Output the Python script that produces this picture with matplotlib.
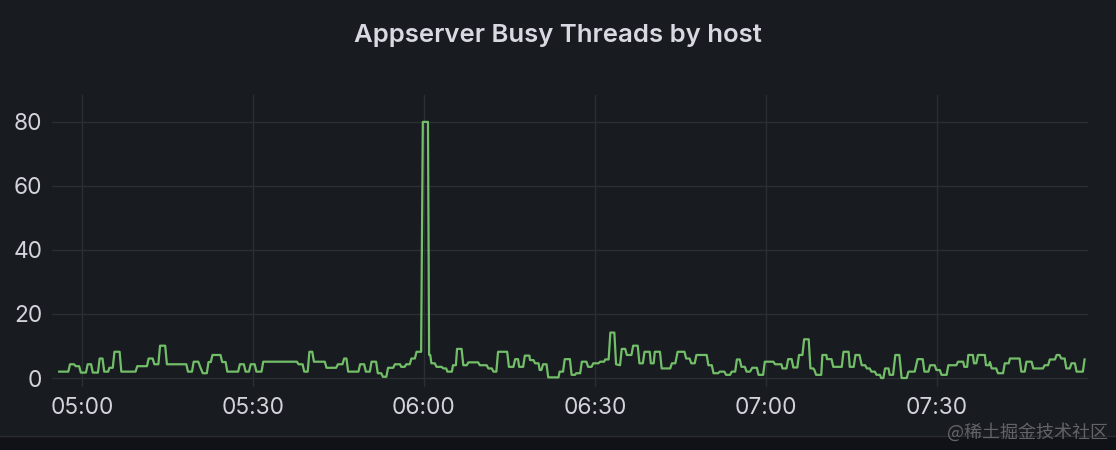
import matplotlib
matplotlib.use("Agg")
import matplotlib.pyplot as plt
from matplotlib.lines import Line2D
from matplotlib.patches import Rectangle

# minutes after 04:56 and busy thread counts (breakpoints)
minutes = [
    0.0, 1.6, 1.9, 2.6, 2.9, 3.5, 3.8, 4.7, 5.0, 5.6, 5.9, 6.8, 7.1, 7.6, 7.9, 8.6,
    8.8, 9.4, 9.7, 10.6, 10.9, 13.4, 13.7, 15.4, 15.7, 16.4, 16.7, 17.4, 17.7, 18.6,
    18.9, 22.3, 22.6, 23.3, 23.6, 24.4, 24.8, 25.2, 25.9, 26.2, 26.6, 26.9, 28.3, 28.6,
    29.2, 29.5, 31.4, 31.7, 32.4, 32.7, 33.3, 33.6, 34.3, 34.6, 35.5, 35.8, 41.7, 42.0,
    42.7, 43.0, 43.6, 43.9, 44.4, 44.7, 46.6, 46.9, 48.6, 48.9, 49.7, 50.0, 50.4, 50.7,
    52.5, 52.8, 53.5, 53.8, 54.5, 54.8, 55.6, 55.9, 56.5, 56.8, 57.4, 57.7, 58.6, 58.9,
    59.8, 60.0, 60.6, 60.9, 61.5, 61.8, 62.4, 62.7, 63.5, 63.8, 64.7, 64.9, 65.1, 65.3,
    65.9, 66.2, 67.1, 67.4, 67.9, 68.1, 68.9, 69.1, 69.6, 69.8, 70.6, 70.9, 71.5, 71.8,
    73.5, 73.8, 75.0, 75.3, 75.9, 76.2, 76.7, 77.0, 78.6, 78.9, 79.7, 80.0, 80.5, 80.7,
    81.4, 81.7, 82.5, 82.6, 83.2, 83.5, 84.1, 84.3, 84.6, 84.9, 85.5, 85.8, 87.6, 87.8,
    88.4, 88.7, 89.6, 89.9, 90.5, 90.7, 91.4, 91.7, 92.5, 92.8, 93.4, 93.7, 94.6, 94.9,
    95.6, 95.8, 96.4, 96.7, 97.4, 97.7, 98.4, 98.7, 99.3, 99.6, 100.4, 100.7, 101.5, 101.8,
    102.4, 102.7, 103.6, 103.8, 104.3, 104.5, 105.4, 105.7, 107.2, 107.5, 108.1, 108.5,
    109.7, 110.0, 110.6, 110.9, 111.5, 111.8, 113.6, 113.9, 114.5, 114.8, 115.6, 115.9,
    116.7, 117.0, 117.7, 118.0, 118.6, 118.9, 119.4, 119.7, 120.3, 120.6, 121.2, 121.6,
    122.4, 122.7, 123.5, 123.8, 125.3, 125.6, 126.7, 126.9, 127.6, 127.9, 128.5, 128.8,
    129.5, 129.8, 130.4, 130.7, 131.5, 131.8, 132.3, 132.5, 132.8, 133.7, 133.9, 134.6,
    134.7, 135.5, 135.8, 137.3, 137.6, 138.5, 138.7, 139.4, 139.7, 140.4, 140.8, 141.4,
    141.7, 142.2, 142.5, 143.1, 143.4, 144.0, 144.2, 144.6, 144.9, 145.5, 145.7, 146.3,
    146.7, 147.4, 147.8, 148.7, 149.0, 150.1, 150.6, 151.5, 151.8, 152.5, 152.8, 153.6,
    153.9, 154.5, 154.8, 155.7, 156.0, 157.4, 157.7, 158.6, 158.8, 159.3, 159.5, 160.3,
    160.5, 160.9, 161.2, 162.4, 162.6, 163.1, 163.3, 163.6, 164.4, 164.7, 165.6, 165.9,
    166.6, 166.8, 168.5, 168.8, 169.4, 169.7, 170.6, 170.9, 172.6, 172.9, 173.5, 173.8,
    174.7, 175.0, 175.5, 175.8, 176.4, 176.7, 177.3, 177.6, 178.2, 178.5, 179.6, 179.9,
]
threads = [
    2.0, 2.0, 4.3, 4.3, 3.7, 3.7, 1.7, 1.7, 4.3, 4.3, 1.7, 1.7, 6.1, 6.1, 2.0, 2.0,
    3.2, 3.2, 8.2, 8.2, 2.0, 2.0, 3.7, 3.7, 6.1, 6.1, 4.3, 4.3, 10.1, 10.1,
    4.3, 4.3, 2.0, 2.0, 5.1, 5.1, 3.2, 1.5, 1.5, 5.0, 5.0, 7.2, 7.2, 5.0,
    5.0, 2.0, 2.0, 4.3, 4.3, 2.0, 2.0, 4.3, 4.3, 2.0, 2.0, 5.1, 5.1, 4.3,
    4.3, 2.0, 2.0, 8.2, 8.2, 5.1, 5.1, 3.2, 3.2, 4.3, 4.3, 6.1, 6.1, 2.0,
    2.0, 4.3, 4.3, 2.0, 2.0, 5.1, 5.1, 1.5, 1.5, 0.4, 0.4, 3.2, 3.2, 4.3,
    4.3, 3.5, 3.5, 4.3, 4.3, 6.1, 6.1, 8.2, 8.2, 80.0, 80.0, 7.2, 7.2, 4.6,
    4.6, 3.5, 3.5, 3.0, 3.0, 2.0, 2.0, 4.0, 4.0, 9.1, 9.1, 4.0, 4.0, 4.9,
    4.9, 4.0, 4.0, 3.0, 3.0, 2.0, 2.0, 8.2, 8.2, 3.5, 3.5, 5.9, 5.9, 3.5,
    3.5, 7.0, 7.0, 5.6, 5.6, 4.6, 4.6, 2.5, 2.5, 4.3, 4.3, 0.2, 0.2, 2.0,
    2.0, 5.9, 5.9, 1.0, 1.0, 1.5, 1.5, 5.1, 5.1, 3.5, 3.5, 4.6, 4.6, 5.1,
    5.1, 5.8, 5.8, 14.2, 14.2, 4.3, 4.0, 9.1, 9.1, 7.2, 7.2, 10.1, 10.1, 4.6,
    4.6, 8.2, 8.2, 4.6, 4.6, 8.2, 8.2, 3.0, 3.0, 4.6, 4.6, 8.2,
    8.2, 6.1, 6.1, 4.6, 4.6, 7.2, 7.2, 4.0, 4.0, 1.5, 1.5, 2.0,
    2.0, 1.0, 1.0, 2.0, 2.0, 5.8, 5.8, 3.5, 3.5, 2.0, 2.0, 3.2,
    3.2, 1.0, 1.0, 5.1, 5.1, 4.3, 4.3, 3.0, 3.0, 5.9, 5.9, 3.3,
    3.3, 7.2, 7.2, 12.1, 12.1, 3.0, 3.0, 2.5, 1.0, 1.0, 7.2, 7.2,
    5.9, 5.9, 3.5, 3.5, 8.2, 8.2, 3.5, 3.5, 7.2, 7.2, 4.0, 4.0,
    3.0, 3.0, 2.0, 2.0, 1.0, 1.0, 0.0, 0.0, 3.0, 3.0, 1.0, 1.0,
    7.2, 7.2, 0.0, 0.0, 2.0, 2.0, 5.9, 5.9, 2.0, 2.0, 4.0, 4.0,
    2.5, 2.5, 1.0, 1.0, 4.0, 4.0, 5.1, 5.1, 3.5, 3.5, 7.2, 7.2,
    4.6, 4.6, 7.2, 7.2, 4.0, 4.0, 5.0, 3.0, 3.0, 1.5, 1.5, 4.6,
    4.6, 6.1, 6.1, 2.0, 2.0, 5.1, 5.1, 3.0, 3.0, 4.0, 4.0, 5.8,
    5.8, 7.2, 7.2, 6.1, 6.1, 3.0, 3.0, 4.6, 4.6, 2.0, 2.0, 5.8,
]

tick_minutes = [4, 34, 64, 94, 124, 154]
tick_labels = ["05:00", "05:30", "06:00", "06:30", "07:00", "07:30"]
y_ticks = [0, 20, 40, 60, 80]
title = "Appserver Busy Threads by host"
watermark = "@稀土掘金技术社区"

BG = "#181b1f"
TEXT = "#d2d3dd"
GRID = "#2b2e33"
LINE = "#73bf69"

plt.rcParams["font.family"] = ["Inter", "DejaVu Sans"]

fig = plt.figure(figsize=(11.16, 4.5), dpi=100, facecolor=BG)
ax = fig.add_axes([52 / 1116, 1 - 387 / 450, (1088 - 52) / 1116, (387 - 95) / 450])
ax.set_facecolor(BG)

ax.plot(minutes, threads, color=LINE, lw=1.6, solid_joinstyle="round")

ax.set_xlim(-1.26, 180.5)
ax.set_ylim(-2.8, 88.4)
ax.set_xticks(tick_minutes)
ax.set_xticklabels(tick_labels)
ax.set_yticks(y_ticks)

ax.grid(True, color=GRID, lw=1.0)
ax.set_axisbelow(True)
for s in ax.spines.values():
    s.set_visible(False)
ax.tick_params(axis="both", length=0, colors=TEXT, labelsize=16.3)
ax.tick_params(axis="y", pad=7)
ax.tick_params(axis="x", pad=7)

fig.text(0.5, 1 - 41.7 / 450, title, ha="center", va="baseline",
         color="#d8d9e2", fontsize=18.5, fontweight="semibold")

# bottom strip
fig.add_artist(Rectangle((0, 0), 1, 1 - 436 / 450, transform=fig.transFigure,
                         facecolor="#111217", edgecolor="none", zorder=-1))
fig.add_artist(Line2D([0, 1], [1 - 436 / 450] * 2, transform=fig.transFigure,
                      color="#2a2c31", lw=1))

fig.text(1108 / 1116, 1 - 432 / 450, watermark, ha="right", va="center",
         color="#6b6b70", fontsize=13, alpha=0.9,
         family=["Noto Sans CJK SC", "DejaVu Sans"])

fig.savefig("out.png", dpi=100, facecolor=BG)
